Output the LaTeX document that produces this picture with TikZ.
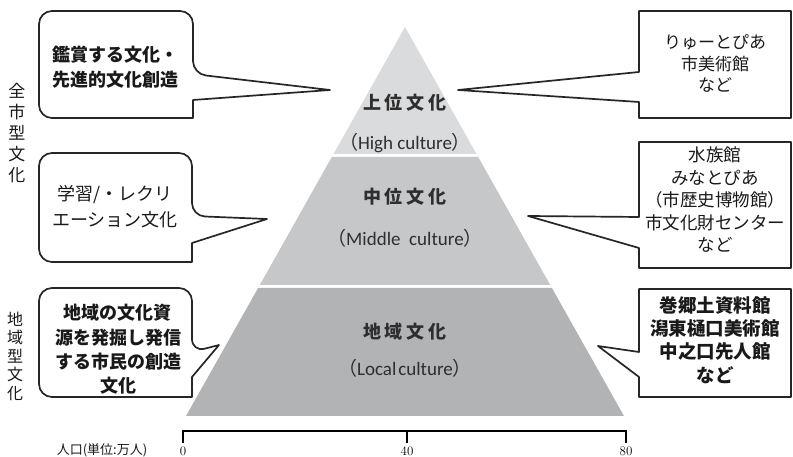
\documentclass[tikz,border=0pt]{standalone}
\usepackage{fontspec}
\newfontfamily\jpfont{Noto Sans CJK JP}
\newfontfamily\calfont{Carlito}
\definecolor{tierhigh}{HTML}{DADBDD}
\definecolor{tiermid}{HTML}{C6C7C9}
\definecolor{tierlow}{HTML}{B2B3B5}
\definecolor{inkgray}{HTML}{2E2E2E}
\tikzset{
  bubble/.style={draw=black!85, line width=1.7pt, fill=white, line join=round},
  jptext/.style={font=\jpfont, align=center, text=black!90, inner sep=0pt},
  tiername/.style={font=\jpfont\bfseries\fontsize{18}{20}\selectfont, text=inkgray, inner sep=0pt},
  tiersub/.style={font=\calfont\fontsize{19}{22}\selectfont, text=inkgray, inner sep=0pt},
  ticklabel/.style={font=\fontsize{13}{14}\selectfont, anchor=north, inner sep=0pt},
}
\newcommand{\wide}[1]{\kern4pt#1}
\begin{document}
\begin{tikzpicture}[x=1pt, y=1pt]
    \useasboundingbox (0,0) rectangle (793,457);

    % pyramid tiers
    \fill[tierhigh] (405,430) -- (476.5,303) -- (333.5,303) -- cycle;
    \fill[tiermid] (331.8,300) -- (478.2,300) -- (550.2,172) -- (259.8,172) -- cycle;
    \fill[tierlow] (258.1,169) -- (551.9,169) -- (624,41) -- (186,41) -- cycle;

    \node[tiername] (hightitle) at (405,354) {上\wide{位}\wide{文}\wide{化}};
    \node[tiersub] (highsub) at (405,314) {{\jpfont （}High culture{\jpfont ）}};
    \node[tiername] (midtitle) at (405,260) {中\wide{位}\wide{文}\wide{化}};
    \node[tiersub] (midsub) at (405,219) {{\jpfont （}Middle\ \ culture{\jpfont ）}};
    \node[tiername] (lowtitle) at (405,125) {地\wide{域}\wide{文}\wide{化}};
    \node[tiersub] (lowsub) at (405,89) {{\jpfont （}Local\kern2pt culture{\jpfont ）}};

    % left side labels
    \node[jptext, font=\jpfont\fontsize{17}{21}\selectfont] (citywide) at (17,324) {全\\市\\型\\文\\化};
    \node[jptext, font=\jpfont\fontsize{16}{18.5}\selectfont] (regional) at (15,101) {地\\域\\型\\文\\化};

    % left callouts
    \draw[bubble] (116,446) [rounded corners=13] -- (193,446) -- (193,383)
        [sharp corners] -- (330,367) -- (193,357) -- (193,339)
        [rounded corners=13] -- (39,339) -- (39,446) -- cycle;
    \node[jptext, font=\jpfont\bfseries\fontsize{18}{25}\selectfont] (appreciate) at (115,389.5)
        {鑑賞する文化・\\先進的文化創造};

    \draw[bubble] (116,304) [rounded corners=13] -- (192,304) -- (192,241)
        [sharp corners] -- (267,238) -- (192,214) -- (192,195)
        [rounded corners=13] -- (39,195) -- (39,304) -- cycle;
    \node[jptext, font=\jpfont\fontsize{18}{26}\selectfont] (learning) at (115,250)
        {学習/・レクリ\\エーション文化};

    \draw[bubble] (116,169) [rounded corners=13] -- (192,169) -- (192,105)
        [sharp corners] -- (219,112) -- (192,80) -- (192,60)
        [rounded corners=13] -- (39,60) -- (39,169) -- cycle;
    \node[jptext, font=\jpfont\bfseries\fontsize{18}{24.3}\selectfont] (citizens) at (118,107.5)
        {地域の文化資\\源を発掘し発信\\する市民の創造\\文化};

    % right callouts
    \draw[bubble] (639,446) -- (791,446) -- (791,339) -- (639,339) -- (639,355)
        -- (458,367) -- (639,385) -- cycle;
    \node[jptext, font=\jpfont\fontsize{17}{21.5}\selectfont] (ryutopia) at (715,393.5)
        {りゅーとぴあ\\市美術館\\など};

    \draw[bubble] (639,315) -- (791,315) -- (791,189) -- (639,189) -- (639,209)
        -- (528,241) -- (639,240) -- cycle;
    \node[jptext, font=\jpfont\fontsize{17.5}{22.5}\selectfont] (minatopia) at (715,257)
        {水族館\\みなとぴあ\\（市歴史博物館）\\市文化財センター\\など};

    \draw[bubble] (639,168) -- (791,168) -- (791,60) -- (639,60) -- (639,80)
        -- (598,111) -- (639,105) -- cycle;
    \node[jptext, font=\jpfont\bfseries\fontsize{18.5}{23.3}\selectfont] (museums) at (715,117)
        {巻郷土資料館\\潟東樋口美術館\\中之口先人館\\など};

    % population axis
    \draw[line width=1.2pt] (183,14) -- (183,26) -- (626,26) -- (626,14);
    \draw[line width=1.2pt] (407,26) -- (407,14);
    \node[ticklabel] (zero) at (183,10.5) {0};
    \node[ticklabel] (forty) at (407,10.5) {40};
    \node[ticklabel] (eighty) at (626,10.5) {80};
    \node[jptext, anchor=north, font=\jpfont\fontsize{13}{14}\selectfont] (poplabel) at (102,13.5)
        {人口(単位:万人)};
\end{tikzpicture}
\end{document}
